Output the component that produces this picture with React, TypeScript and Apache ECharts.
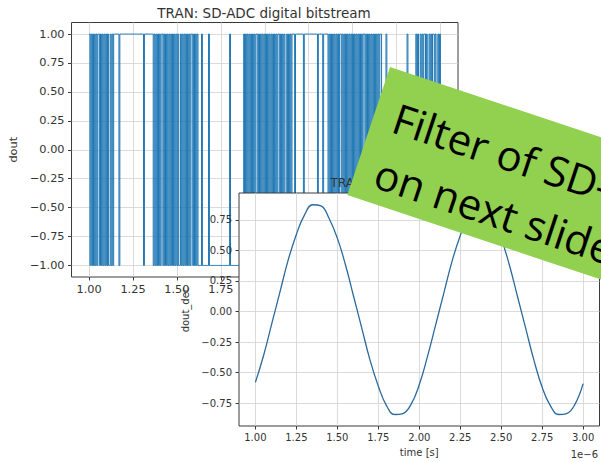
import React, { useEffect, useRef } from 'react';
import * as echarts from 'echarts';

// ---- chart 1: SD-ADC digital bitstream ----
const bitTitle = 'TRAN: SD-ADC digital bitstream';
const bitYName = 'dout';
const bitStart = 1.0; // x 1e-6 s
const bitStep = 0.005;
// '1' = +1, '0' = -1 (401 samples, 1.000 .. 3.000)
const bitSegments = [
  // 1.000 - 1.135 dense
  '10101010' + '10110101' + '01010100' + '1010',
  // 1.140 - 1.355 mostly high
  '111111' + '0' + '1111111111' + '1111111111' + '1111111' + '0' + '111111111',
  // 1.360 - 1.615 dense
  '1010101010' + '1101010101' + '0101010101' + '0010101010' + '1010110101' + '01',
  // 1.620 - 1.875 mostly low
  '0000' + '1' + '0000000' + '1' + '0000000000' + '0000000000' + '000' + '1' + '0000000000' + '00000',
  // 1.880 - 2.155 dense
  '1010101010' + '1010110101' + '0101010101' + '0101010101' + '1010101001' + '010101',
  // 2.160 - 2.355 mostly high
  '11' + '0' + '111111111' + '0' + '1111111111' + '11111' + '0' + '11111' + '0' + '11111',
  // 2.360 - 2.655 dense
  '0101010101' + '0101101010' + '1010101010' + '1010101010' + '1101010101' + '0101010101',
  // 2.660 - 2.855 mostly low
  '1' + '00000' + '1' + '0000000000' + '0000000000' + '000' + '1' + '000000000',
  // 2.860 - 3.000 lighter dense
  '1010010101' + '1010010101' + '10100101' + '0',
];
const bitXTicks = [1.0, 1.25, 1.5, 1.75, 2.0, 2.25, 2.5, 2.75, 3.0];
const bitYTicks = [-1.0, -0.75, -0.5, -0.25, 0.0, 0.25, 0.5, 0.75, 1.0];

// ---- chart 2: filtered output ----
const decTitle = 'TRAN: SD-ADC filtered output';
const decYName = 'dout_dec';
const decXName = 'time [s]';
const decTime = [
  1.0, 1.05, 1.1, 1.15, 1.2, 1.25, 1.3, 1.35, 1.4, 1.45,
  1.5, 1.55, 1.6, 1.65, 1.7, 1.75, 1.8, 1.85, 1.9, 1.95,
  2.0, 2.05, 2.1, 2.15, 2.2, 2.25, 2.3, 2.35, 2.4, 2.45,
  2.5, 2.55, 2.6, 2.65, 2.7, 2.75, 2.8, 2.85, 2.9, 2.95, 3.0,
];
const decValues = [
  -0.58, -0.36, -0.1, 0.16, 0.42, 0.63, 0.79, 0.873, 0.864, 0.76,
  0.6, 0.38, 0.12, -0.14, -0.4, -0.61, -0.77, -0.843, -0.835, -0.76,
  -0.6, -0.37, -0.11, 0.15, 0.41, 0.62, 0.78, 0.873, 0.866, 0.77,
  0.6, 0.38, 0.12, -0.14, -0.4, -0.62, -0.77, -0.843, -0.835, -0.76, -0.59,
];
const decXTicks = [1.0, 1.25, 1.5, 1.75, 2.0, 2.25, 2.5, 2.75, 3.0];
const decYTicks = [-0.75, -0.5, -0.25, 0.0, 0.25, 0.5, 0.75];
const decOffsetText = '1e\u22126';

// ---- slide note ----
const noteLines = ['Filter of SD-ADC', 'on next slide'];

const fmt = (v: number) => v.toFixed(2).replace('-', '\u2212');
const MPL = 'DejaVu Sans';

export default function App() {
  const ref = useRef<HTMLDivElement>(null);
  useEffect(() => {
    if (!ref.current) return;
    const chart = echarts.init(ref.current, undefined, { renderer: 'svg' });
    const bits = bitSegments.join('').split('').map((c) => (c === '1' ? 1 : -1));
    const bitData = bits.map((b, i) => [+(bitStart + i * bitStep).toFixed(4), b]);
    const decData = decTime.map((t, i) => [t, decValues[i]]);
    const spine = '#3a3a3a';
    const gridColor = '#d2d2d2';
    const labelColor = '#333';

    const axisCommon = (ticks: number[], fontSize: number, margin: number, z: number) => ({
      type: 'value' as const,
      z,
      axisLine: { show: false, onZero: false },
      axisTick: { show: true, length: 3.5, lineStyle: { color: spine, width: 1 }, customValues: ticks },
      axisLabel: { customValues: ticks, formatter: fmt, fontSize, color: labelColor, fontFamily: MPL, margin },
      splitLine: { show: true, lineStyle: { color: gridColor, width: 0.8 } },
    });

    const rot = (-18.4 * Math.PI) / 180;

    chart.setOption({
      animation: false,
      backgroundColor: '#ffffff',
      grid: [
        { left: 70, top: 22.5, width: 388, height: 254.5, show: true, borderColor: spine, borderWidth: 1, backgroundColor: 'rgba(0,0,0,0)', z: 0 },
        { left: 239, top: 193, width: 360.5, height: 235, show: true, borderColor: spine, borderWidth: 1, backgroundColor: '#ffffff', z: 3 },
      ],
      xAxis: [
        { ...axisCommon(bitXTicks, 11.3, 7, 0), gridIndex: 0, min: 0.9, max: 3.1 },
        {
          ...axisCommon(decXTicks, 10, 6, 4), gridIndex: 1, min: 0.9, max: 3.1,
          name: decXName, nameLocation: 'middle', nameGap: 21,
          nameTextStyle: { fontSize: 10, color: labelColor, fontFamily: MPL },
        },
      ],
      yAxis: [
        {
          ...axisCommon(bitYTicks, 11.3, 7, 0), gridIndex: 0, min: -1.1, max: 1.1,
          name: bitYName, nameLocation: 'middle', nameGap: 50,
          nameTextStyle: { fontSize: 11.3, color: labelColor, fontFamily: MPL },
        },
        {
          ...axisCommon(decYTicks, 10, 7, 4), gridIndex: 1, min: -0.937, max: 0.969,
          name: decYName, nameLocation: 'middle', nameGap: 45,
          nameTextStyle: { fontSize: 10, color: labelColor, fontFamily: MPL },
        },
      ],
      series: [
        {
          type: 'line', xAxisIndex: 0, yAxisIndex: 0, data: bitData, step: 'end',
          symbol: 'none', lineStyle: { color: '#1f77b4', width: 1 }, z: 1, silent: true,
        },
        {
          type: 'line', xAxisIndex: 1, yAxisIndex: 1, data: decData, smooth: 0.45,
          symbol: 'none', lineStyle: { color: '#2a6a9c', width: 1.3 }, z: 5, silent: true,
        },
      ],
      graphic: [
        {
          type: 'text', x: 264, y: 12.5, z: 6,
          style: { text: bitTitle, fontSize: 13.5, fontFamily: MPL, fill: labelColor, align: 'center', verticalAlign: 'middle' },
        },
        {
          type: 'text', x: 419, y: 183, z: 6,
          style: { text: decTitle, fontSize: 12, fontFamily: MPL, fill: labelColor, align: 'center', verticalAlign: 'middle' },
        },
        {
          type: 'text', x: 598, y: 454, z: 6,
          style: { text: decOffsetText, fontSize: 10, fontFamily: MPL, fill: labelColor, align: 'right', verticalAlign: 'middle' },
        },
        {
          type: 'group', x: 390, y: 67, rotation: rot, z: 20,
          children: [
            { type: 'rect', z: 20, shape: { x: 0, y: 0, width: 460, height: 135 }, style: { fill: '#92d050' } },
            {
              type: 'text', z: 21, x: 20, y: 45,
              style: { text: noteLines[0], font: '42px "Open Sans"', fill: '#000', align: 'left', verticalAlign: 'middle' },
            },
            {
              type: 'text', z: 21, x: 20, y: 103,
              style: { text: noteLines[1], font: '42px "Open Sans"', fill: '#000', align: 'left', verticalAlign: 'middle' },
            },
          ],
        },
      ],
    });
    return () => chart.dispose();
  }, []);
  return <div ref={ref} style={{ position: 'fixed', left: 0, top: 0, width: 601, height: 462 }} />;
}
